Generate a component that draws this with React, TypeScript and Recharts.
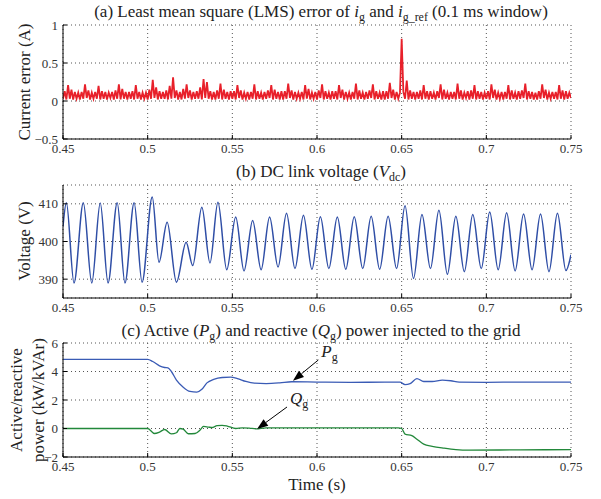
import React from 'react';
import { LineChart, Line, XAxis, YAxis, CartesianGrid, ReferenceLine } from 'recharts';

const FONT = '"Liberation Serif", "DejaVu Serif", serif';

const timeTicks = [0.45, 0.5, 0.55, 0.6, 0.65, 0.7, 0.75];
const errorTicks = [-0.5, 0, 0.5, 1];
const voltageTicks = [390, 400, 410];
const powerTicks = [-2, 0, 2, 4, 6];

// (a) LMS current error, one sample per ms starting at 0.45 s
const errorStart = 0.45;
const errorStep = 0.001;
const errorValues = [
  0.03, 0.13, 0.02, 0.21, 0.03, 0.15, 0.02, 0.12, 0.03, 0.11,
  0.02, 0.12, 0.03, 0.22, 0.04, 0.14, 0.02, 0.11, 0.03, 0.12,
  0.03, 0.2, 0.02, 0.13, 0.03, 0.12, 0.02, 0.11, 0.04, 0.12,
  0.02, 0.14, 0.03, 0.22, 0.02, 0.16, 0.03, 0.12, 0.02, 0.12,
  0.03, 0.13, 0.02, 0.21, 0.03, 0.12, 0.02, 0.11, 0.03, 0.11,
  0.02, 0.15, 0.03, 0.28, 0.04, 0.18, 0.02, 0.13, 0.03, 0.12,
  0.03, 0.14, 0.02, 0.2, 0.03, 0.31, 0.04, 0.14, 0.02, 0.12,
  0.02, 0.16, 0.03, 0.22, 0.04, 0.14, 0.02, 0.12, 0.03, 0.13,
  0.03, 0.18, 0.02, 0.29, 0.04, 0.25, 0.03, 0.13, 0.02, 0.12,
  0.02, 0.14, 0.03, 0.23, 0.02, 0.15, 0.03, 0.12, 0.02, 0.13,
  0.03, 0.13, 0.02, 0.21, 0.04, 0.14, 0.02, 0.11, 0.03, 0.12,
  0.02, 0.12, 0.03, 0.22, 0.02, 0.13, 0.03, 0.11, 0.02, 0.12,
  0.03, 0.14, 0.04, 0.21, 0.02, 0.15, 0.03, 0.12, 0.02, 0.13,
  0.02, 0.13, 0.03, 0.23, 0.04, 0.14, 0.02, 0.12, 0.03, 0.11,
  0.03, 0.12, 0.02, 0.21, 0.03, 0.16, 0.02, 0.11, 0.03, 0.12,
  0.02, 0.14, 0.04, 0.22, 0.02, 0.13, 0.03, 0.11, 0.02, 0.13,
  0.03, 0.13, 0.02, 0.21, 0.04, 0.15, 0.02, 0.12, 0.03, 0.11,
  0.02, 0.12, 0.03, 0.23, 0.02, 0.14, 0.03, 0.11, 0.02, 0.12,
  0.03, 0.14, 0.04, 0.22, 0.02, 0.13, 0.03, 0.11, 0.02, 0.13,
  0.02, 0.13, 0.03, 0.24, 0.04, 0.15, 0.02, 0.12, 0.03, 0.11,
  0.82, 0.12, 0.03, 0.27, 0.02, 0.14, 0.03, 0.12, 0.02, 0.12,
  0.03, 0.14, 0.02, 0.21, 0.03, 0.13, 0.02, 0.13, 0.03, 0.11,
  0.02, 0.13, 0.04, 0.22, 0.02, 0.15, 0.03, 0.11, 0.02, 0.12,
  0.03, 0.12, 0.02, 0.23, 0.03, 0.14, 0.02, 0.11, 0.04, 0.13,
  0.02, 0.14, 0.03, 0.21, 0.02, 0.13, 0.03, 0.12, 0.02, 0.11,
  0.03, 0.13, 0.02, 0.22, 0.04, 0.15, 0.02, 0.11, 0.03, 0.12,
  0.02, 0.12, 0.03, 0.21, 0.02, 0.14, 0.03, 0.11, 0.02, 0.13,
  0.03, 0.14, 0.04, 0.23, 0.02, 0.13, 0.03, 0.12, 0.02, 0.11,
  0.02, 0.13, 0.03, 0.22, 0.04, 0.15, 0.02, 0.11, 0.03, 0.12,
  0.03, 0.12, 0.02, 0.21, 0.03, 0.14, 0.02, 0.13, 0.03, 0.11,
  0.04,
];

// (b) DC link voltage: peaks and troughs [t, V]
const vdcPoints = [
  [0.45, 404], [0.452, 410.3], [0.4565, 389], [0.462, 410.3], [0.467, 389],
  [0.472, 410.2], [0.4766, 389], [0.482, 410.3], [0.4866, 389], [0.492, 410.3],
  [0.4967, 389.2], [0.5027, 411.8], [0.5067, 394.5], [0.5115, 405.1], [0.517, 389.2],
  [0.5227, 399.8], [0.5266, 393.6], [0.532, 409.1], [0.5368, 394.3], [0.5415, 410.4],
  [0.5467, 392.5], [0.552, 406.5], [0.5569, 392.2], [0.562, 405.6], [0.567, 392.5],
  [0.572, 406.5], [0.577, 393.2], [0.582, 407.5], [0.587, 392.8], [0.592, 407],
  [0.597, 392.6], [0.602, 406.6], [0.607, 392.8], [0.612, 406.5], [0.617, 392.6],
  [0.622, 406.6], [0.627, 392.8], [0.632, 406.7], [0.637, 392.6], [0.642, 406.7],
  [0.647, 392.8], [0.652, 409.5], [0.657, 390.2], [0.662, 407.2], [0.667, 392.8],
  [0.672, 408.3], [0.677, 391.3], [0.682, 406.7], [0.687, 392], [0.692, 407.2],
  [0.697, 392.8], [0.702, 407.8], [0.707, 392.5], [0.712, 407.6], [0.717, 392.2],
  [0.722, 407.3], [0.727, 392.5], [0.732, 407.3], [0.737, 392], [0.742, 407.5],
  [0.747, 392.3], [0.75, 396.5],
];

// (c) active power P_g [t, kW]
const pPoints = [
  [0.45, 4.85], [0.5, 4.85], [0.503, 4.7], [0.507, 4.4], [0.51, 4.28], [0.512, 4.25],
  [0.514, 4.0], [0.517, 3.4], [0.521, 2.9], [0.525, 2.6], [0.529, 2.55], [0.532, 2.75],
  [0.535, 3.2], [0.539, 3.45], [0.544, 3.58], [0.549, 3.6], [0.553, 3.5], [0.558, 3.3],
  [0.563, 3.18], [0.57, 3.15], [0.578, 3.2], [0.585, 3.28], [0.6, 3.26], [0.62, 3.24],
  [0.64, 3.25], [0.649, 3.25], [0.652, 3.08], [0.655, 3.15], [0.659, 3.5], [0.663, 3.3],
  [0.668, 3.3], [0.674, 3.4], [0.679, 3.35], [0.684, 3.25], [0.7, 3.24], [0.72, 3.26],
  [0.75, 3.25],
];

// (c) reactive power Q_g [t, kVAr]
const qPoints = [
  [0.45, 0], [0.5, 0], [0.504, -0.35], [0.507, -0.25], [0.51, -0.07], [0.514, -0.38],
  [0.517, -0.3], [0.519, 0], [0.521, -0.05], [0.524, -0.37], [0.528, -0.35], [0.531, -0.1],
  [0.533, 0.15], [0.536, 0.1], [0.538, 0.07], [0.541, 0.2], [0.544, 0.22], [0.547, 0.17],
  [0.552, 0], [0.556, 0.05], [0.56, 0.03], [0.564, -0.03], [0.57, 0.05], [0.6, 0.05],
  [0.62, 0.04], [0.648, 0.05], [0.65, 0], [0.652, -0.4], [0.656, -0.5], [0.659, -0.75],
  [0.663, -1.1], [0.668, -1.25], [0.675, -1.38], [0.682, -1.48], [0.69, -1.52], [0.72, -1.5],
  [0.75, -1.48],
];

const errorData = errorValues.map((v, i) => ({ t: +(errorStart + i * errorStep).toFixed(4), v }));
const vdcData = vdcPoints.map(([t, v]) => ({ t, v }));
const pData = pPoints.map(([t, v]) => ({ t, v }));
const qData = qPoints.map(([t, v]) => ({ t, v }));

const tickStyle = { fontSize: 13, fill: '#333', fontFamily: FONT };
const fmtNum = (v: number) => (v < 0 ? '\u2212' + String(-v) : String(v));

const Sub = ({ children }: { children: React.ReactNode }) => (
  <span style={{ fontSize: '0.7em', position: 'relative', top: '0.3em' }}>{children}</span>
);

const textBase: React.CSSProperties = {
  position: 'absolute',
  fontFamily: FONT,
  fontSize: 17,
  color: '#222',
  whiteSpace: 'nowrap',
  lineHeight: '18px',
};

const Title = ({ y, children }: { y: number; children: React.ReactNode }) => (
  <div style={{ ...textBase, left: 321, top: y, transform: 'translate(-50%, -50%)' }}>{children}</div>
);

const VLabel = ({ x, y, children }: { x: number; y: number; children: React.ReactNode }) => (
  <div style={{ ...textBase, left: x, top: y, transform: 'translate(-50%, -50%) rotate(-90deg)' }}>{children}</div>
);

const arrowShape = (name: string, dx: number, dy: number) => (props: any) => {
  const { x1, y1, x2, y2 } = props;
  const ang = Math.atan2(y2 - y1, x2 - x1);
  const len = 11;
  const half = 4;
  const bx = x2 - len * Math.cos(ang);
  const by = y2 - len * Math.sin(ang);
  const px = -Math.sin(ang) * half;
  const py = Math.cos(ang) * half;
  return (
    <g>
      <line x1={x1} y1={y1} x2={bx} y2={by} stroke="#000" strokeWidth={1} />
      <polygon points={`${x2},${y2} ${bx + px},${by + py} ${bx - px},${by - py}`} fill="#000" />
      <text x={x1 + dx} y={y1 + dy} fontFamily={FONT} fontSize={17} fill="#222">
        <tspan fontStyle="italic">{name}</tspan>
        <tspan fontSize={12} dy={4}>g</tspan>
      </text>
    </g>
  );
};

const frameAxes = (yDomain: number[], yTicks: number[], xHeight: number) => [
  <XAxis
    key="xb"
    dataKey="t"
    type="number"
    domain={[0.45, 0.75]}
    ticks={timeTicks}
    allowDataOverflow
    tickSize={-4}
    tickMargin={9}
    height={xHeight}
    stroke="#000"
    tick={tickStyle}
  />,
  <XAxis
    key="xt"
    xAxisId="top"
    orientation="top"
    type="number"
    domain={[0.45, 0.75]}
    ticks={timeTicks}
    allowDataOverflow
    tickSize={-4}
    height={0}
    tick={false}
    stroke="#000"
  />,
  <YAxis
    key="yl"
    type="number"
    domain={yDomain}
    ticks={yTicks}
    allowDataOverflow
    width={63}
    tickSize={-4}
    tickMargin={9}
    stroke="#000"
    tick={tickStyle}
    tickFormatter={fmtNum}
  />,
  <YAxis
    key="yr"
    yAxisId="right"
    orientation="right"
    type="number"
    domain={yDomain}
    ticks={yTicks}
    allowDataOverflow
    width={0}
    tickSize={-4}
    tick={false}
    stroke="#000"
  />,
];

const grid = <CartesianGrid stroke="#555" strokeDasharray="1 3" />;

export default function App() {
  return (
    <div style={{ position: 'absolute', left: 0, top: 0, width: 601, height: 499, background: '#fff' }}>
      <div style={{ position: 'absolute', left: 0, top: 0 }}>
        <LineChart width={601} height={165} data={errorData} margin={{ top: 25, right: 30, bottom: 0, left: 0 }}>
          {grid}
          {frameAxes([-0.5, 1], errorTicks, 26)}
          <Line dataKey="v" type="linear" stroke="#e8202a" strokeWidth={1.8} dot={false} isAnimationActive={false} />
        </LineChart>
      </div>
      <div style={{ position: 'absolute', left: 0, top: 160 }}>
        <LineChart width={601} height={165} data={vdcData} margin={{ top: 25, right: 30, bottom: 0, left: 0 }}>
          {grid}
          {frameAxes([385, 415], voltageTicks, 27)}
          <Line dataKey="v" type="monotone" stroke="#2f4ea6" strokeWidth={1.5} dot={false} isAnimationActive={false} />
        </LineChart>
      </div>
      <div style={{ position: 'absolute', left: 0, top: 318 }}>
        <LineChart width={601} height={181} margin={{ top: 25, right: 30, bottom: 0, left: 0 }}>
          {grid}
          {frameAxes([-2, 6], powerTicks, 42)}
          <Line data={pData} dataKey="v" type="monotone" stroke="#3a5bb5" strokeWidth={1.3} dot={false} isAnimationActive={false} />
          <Line data={qData} dataKey="v" type="monotone" stroke="#22883a" strokeWidth={1.3} dot={false} isAnimationActive={false} />
          <ReferenceLine
            segment={[{ x: 0.6008, y: 4.81 }, { x: 0.5858, y: 3.35 }]}
            shape={arrowShape('P', 3, -3)}
            ifOverflow="visible"
          />
          <ReferenceLine
            segment={[{ x: 0.5823, y: 1.51 }, { x: 0.5646, y: -0.03 }]}
            shape={arrowShape('Q', 3, -3)}
            ifOverflow="visible"
          />
        </LineChart>
      </div>

      <Title y={12}>
        (a) Least mean square (LMS) error of <i>i</i>
        <Sub>g</Sub> and <i>i</i>
        <Sub>g_ref</Sub> (0.1 ms window)
      </Title>
      <Title y={172}>
        (b) DC link voltage (<i>V</i>
        <Sub>dc</Sub>)
      </Title>
      <Title y={331}>
        (c) Active (<i>P</i>
        <Sub>g</Sub>) and reactive (<i>Q</i>
        <Sub>g</Sub>) power injected to the grid
      </Title>
      <VLabel x={25} y={82}>Current error (A)</VLabel>
      <VLabel x={25} y={241}>Voltage (V)</VLabel>
      <VLabel x={17} y={400}>Active/reactive</VLabel>
      <VLabel x={39} y={400}>power (kW/kVAr)</VLabel>
      <div style={{ ...textBase, left: 317, top: 485, transform: 'translate(-50%, -50%)' }}>Time (s)</div>
    </div>
  );
}
